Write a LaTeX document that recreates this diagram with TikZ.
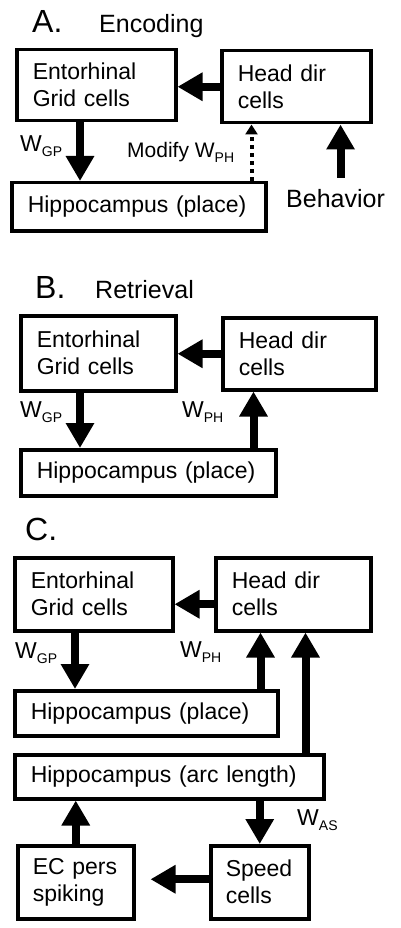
\documentclass[tikz,border=0pt]{standalone}
\usepackage{fontspec}
\setmainfont{Liberation Sans}
\usetikzlibrary{arrows.meta}
\newcommand\cellfont{\fontsize{23}{27}\selectfont}
\newcommand\wlab[1]{W\raisebox{-5pt}{\fontsize{14}{14}\selectfont #1}}
\begin{document}
\begin{tikzpicture}[x=1pt,y=-1pt,
  cellbox/.style n args={3}{draw,line width=3.5pt,anchor=north west,align=left,
    inner xsep=16pt,font=\cellfont,minimum width=#1,minimum height=#2,text width=#3},
  lab/.style={inner sep=0pt,anchor=base west,font=\cellfont},
  ttl/.style={inner sep=0pt,anchor=base west,font=\fontsize{32}{32}\selectfont},
  sub/.style={inner sep=0pt,anchor=base west,font=\fontsize{25}{25}\selectfont},
  thickarr/.style={line width=8pt,-{Triangle[length=25pt,width=27pt]}},
  dotarr/.style={line width=4pt,dash pattern=on 4pt off 4pt,-{Triangle[length=10pt,width=12pt]}}]
  \useasboundingbox (0,0) rectangle (400,928);
  % A. encoding
  \draw (32,33) node[ttl] (tA) {A.};
  \draw (99,33) node[sub] (sA) {Encoding};
  \draw (15,48) node[cellbox={159pt}{71pt}{127pt}] (entA) {Entorhinal\\Grid cells};
  \draw (220,49) node[cellbox={149pt}{72pt}{117pt}] (headA) {Head dir\\cells};
  \draw (10,181) node[cellbox={254pt}{48pt}{222pt}] (hipA) {Hippocampus (place)};
  \draw (286,207) node[sub] (behA) {Behavior};
  \draw (20,152) node[lab] (gpA) {\wlab{GP}};
  \draw (127,158) node[lab,font=\fontsize{21}{21}\selectfont] (phA) {Modify \wlab{PH}};
  \draw[thickarr] (headA.west) -- (headA.west -| entA.east);
  \draw[thickarr] ([xshift=65pt]entA.south west) coordinate (a1) -- (a1 |- hipA.north);
  \draw[dotarr] ([xshift=-16pt]hipA.north east) coordinate (a2) -- (a2 |- headA.south);
  \draw[thickarr] ([xshift=5pt,yshift=11pt]behA.north) coordinate (a3) -- (a3 |- headA.south);
  %
  % B. retrieval
  \draw (35,298) node[ttl] (tB) {B.};
  \draw (95,298) node[sub] (sB) {Retrieval};
  \draw (19,314) node[cellbox={155pt}{75pt}{123pt}] (entB) {Entorhinal\\Grid cells};
  \draw (221,316) node[cellbox={153pt}{72pt}{121pt}] (headB) {Head dir\\cells};
  \draw (19,448) node[cellbox={255pt}{46pt}{223pt}] (hipB) {Hippocampus (place)};
  \draw (20,417) node[lab] (gpB) {\wlab{GP}};
  \draw (182,417) node[lab] (phB) {\wlab{PH}};
  \draw[thickarr] (headB.west) -- (headB.west -| entB.east);
  \draw[thickarr] ([xshift=61pt]entB.south west) coordinate (b1) -- (b1 |- hipB.north);
  \draw[thickarr] ([xshift=-24pt]hipB.north east) coordinate (b2) -- (b2 |- headB.south);
  %
  % C. arc length
  \draw (25,540) node[ttl] (tC) {C.};
  \draw (13,556) node[cellbox={158pt}{73pt}{126pt}] (entC) {Entorhinal\\Grid cells};
  \draw (214,556) node[cellbox={155pt}{73pt}{123pt}] (headC) {Head dir\\cells};
  \draw (13,689) node[cellbox={263pt}{45pt}{231pt}] (hipC) {Hippocampus (place)};
  \draw (13,753) node[cellbox={309pt}{44pt}{277pt}] (arcC) {Hippocampus (arc length)};
  \draw (16,844) node[cellbox={116pt}{73pt}{86pt},inner xsep=15pt] (ecC) {EC pers\\spiking};
  \draw (209,844) node[cellbox={98pt}{73pt}{68pt},inner xsep=15pt] (spC) {Speed\\cells};
  \draw (15,658) node[lab] (gpC) {\wlab{GP}};
  \draw (180,657) node[lab] (phC) {\wlab{PH}};
  \draw (297,825) node[lab] (asC) {\wlab{AS}};
  \draw[thickarr] ([yshift=-10pt]headC.west) coordinate (c0) -- (c0 -| entC.east);
  \draw[thickarr] ([xshift=62pt]entC.south west) coordinate (c1) -- (c1 |- hipC.north);
  \draw[thickarr] ([xshift=-19pt]hipC.north east) coordinate (c2) -- (c2 |- headC.south);
  \draw[thickarr] ([xshift=-20pt]arcC.north east) coordinate (c3) -- (c3 |- headC.south);
  \draw[thickarr] (spC.north |- arcC.south) -- (spC.north);
  \draw[thickarr] ([yshift=3pt]spC.west) coordinate (c4) -- ([xshift=15pt]c4 -| ecC.east);
  \draw[thickarr] (ecC.north) -- (ecC.north |- arcC.south);
\end{tikzpicture}
\end{document}
